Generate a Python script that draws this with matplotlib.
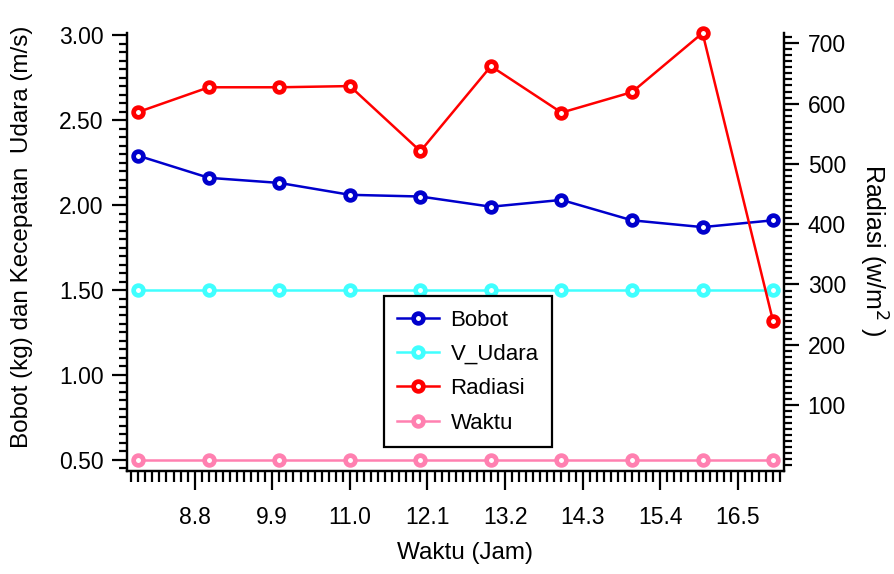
import numpy as np
import matplotlib.pyplot as plt
from matplotlib.ticker import MultipleLocator, FormatStrFormatter

plt.rcParams['font.family'] = ['Liberation Sans', 'DejaVu Sans']

# Jam pengamatan
waktu_jam = [8, 9, 10, 11, 12, 13, 14, 15, 16, 17]

# Sumbu kiri (kg dan m/s)
bobot = [2.29, 2.16, 2.13, 2.06, 2.05, 1.99, 2.03, 1.91, 1.87, 1.91]
v_udara = [1.50, 1.50, 1.50, 1.50, 1.50, 1.50, 1.50, 1.50, 1.50, 1.50]
waktu_ref = [0.50, 0.50, 0.50, 0.50, 0.50, 0.50, 0.50, 0.50, 0.50, 0.50]

# Sumbu kanan (w/m2)
radiasi = [586, 627, 627, 629, 521, 662, 585, 619, 717, 239]

x_ticks = [8.8, 9.9, 11.0, 12.1, 13.2, 14.3, 15.4, 16.5]

fig = plt.figure(figsize=(8.95, 5.74), dpi=100)
ax1 = fig.add_axes([0.1419, 0.1794, 0.7341, 0.7631])
ax2 = ax1.twinx()

style = dict(marker='o', markersize=7, markeredgewidth=3.4,
             markerfacecolor='white', linewidth=1.8)

l1, = ax1.plot(waktu_jam, bobot, color='#0000cc', label='Bobot', **style)
l2, = ax1.plot(waktu_jam, v_udara, color='#40ffff', label='V_Udara', **style)
l4, = ax1.plot(waktu_jam, waktu_ref, color='#ff80b0', label='Waktu', **style)
l3, = ax2.plot(waktu_jam, radiasi, color='#ff0000', label='Radiasi', **style)
for l in (l1, l2, l3, l4):
    l.set_clip_on(False)

ax1.set_xlim(7.84, 17.155)
ax1.set_ylim(0.435, 3.012)
ax2.set_ylim(-9.3, 717)

ax1.set_xticks(x_ticks)
ax1.xaxis.set_major_formatter(FormatStrFormatter('%.1f'))
ax1.xaxis.set_minor_locator(MultipleLocator(0.1))
ax1.yaxis.set_major_locator(MultipleLocator(0.5))
ax1.yaxis.set_major_formatter(FormatStrFormatter('%.2f'))
ax1.yaxis.set_minor_locator(MultipleLocator(0.05))
ax2.yaxis.set_minor_locator(MultipleLocator(10))
ax2.set_yticks([100, 200, 300, 400, 500, 600, 700])

for ax in (ax1, ax2):
    ax.spines['top'].set_visible(False)
    for s in ('left', 'right', 'bottom'):
        ax.spines[s].set_linewidth(1.6)

ax1.tick_params(axis='x', which='major', direction='out', length=14, width=1.6,
                labelsize=16.5, pad=11)
ax1.tick_params(axis='x', which='minor', direction='out', length=8, width=1.6)
ax1.tick_params(axis='y', which='major', direction='out', length=11, width=1.6,
                labelsize=16.5, pad=6)
ax1.tick_params(axis='y', which='minor', direction='out', length=6, width=1.6)
ax2.tick_params(axis='y', which='major', direction='out', length=11, width=1.6,
                labelsize=16.5, pad=6)
ax2.tick_params(axis='y', which='minor', direction='out', length=6, width=1.6)

ax1.set_xlabel('Waktu (Jam)', fontsize=17.5)
ax1.xaxis.set_label_coords(0.514, -0.162)
ax1.set_ylabel('Bobot (kg) dan Kecepatan  Udara (m/s)', fontsize=17.5)
ax1.yaxis.set_label_coords(-0.143, 0.535)
ax2.set_ylabel('Radiasi (w/m$^2$ )', fontsize=18, rotation=270, va='bottom')
ax2.yaxis.set_label_coords(1.111, 0.504)

leg = ax2.legend(handles=[l1, l2, l3, l4], loc='lower left',
                 bbox_to_anchor=(0.391, 0.055), fontsize=16, frameon=True,
                 fancybox=False, edgecolor='black', framealpha=1,
                 handlelength=1.9, borderpad=0.6, labelspacing=0.6,
                 handletextpad=0.5, borderaxespad=0)
leg.get_frame().set_linewidth(1.6)

fig.savefig('out.png', dpi=100)
